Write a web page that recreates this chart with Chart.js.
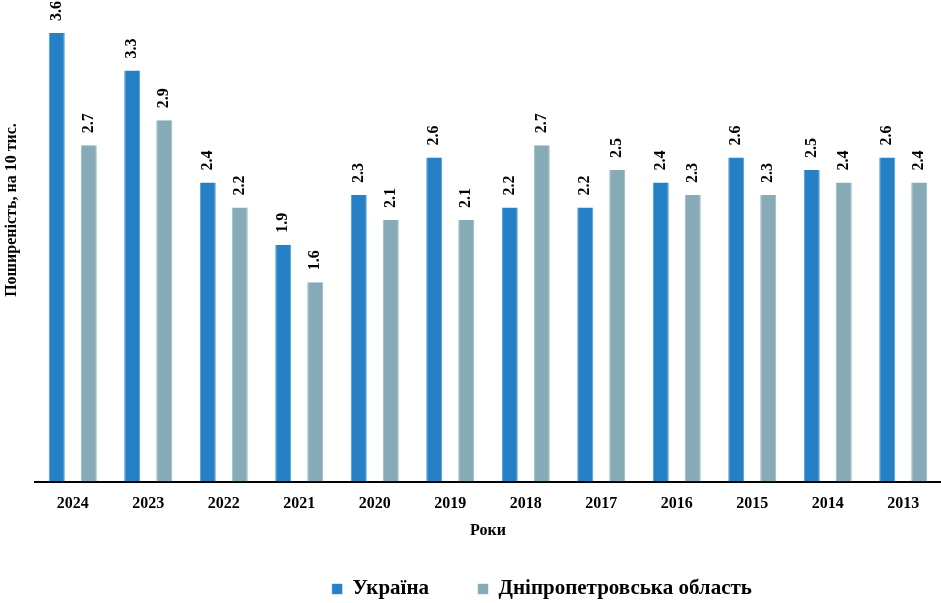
<!DOCTYPE html>
<html>
<head>
<meta charset="utf-8">
<script src="https://cdn.jsdelivr.net/npm/chart.js@4/dist/chart.umd.min.js"></script>
<style>
html,body{margin:0;padding:0;background:#fff;}
#wrap{width:941px;height:603px;}
</style>
</head>
<body>
<div id="wrap"><canvas id="c" width="941" height="603"></canvas></div>
<script>
const categories = ['2024','2023','2022','2021','2020','2019','2018','2017','2016','2015','2014','2013'];
const ukraine = [3.6, 3.3, 2.4, 1.9, 2.3, 2.6, 2.2, 2.2, 2.4, 2.6, 2.5, 2.6];
const dnipro = [2.7, 2.9, 2.2, 1.6, 2.1, 2.1, 2.7, 2.5, 2.3, 2.3, 2.4, 2.4];
const seriesNames = ['Україна', 'Дніпропетровська область'];
const yTitle = 'Поширеність, на 10 тис.';
const xTitle = 'Роки';

const FONT = '"Liberation Serif", "Times New Roman", serif';

const labelPlugin = {
  id: 'valueLabels',
  afterDatasetsDraw(chart) {
    const ctx = chart.ctx;
    ctx.save();
    ctx.font = 'bold 16px ' + FONT;
    ctx.fillStyle = '#000';
    ctx.textAlign = 'left';
    ctx.textBaseline = 'middle';
    chart.data.datasets.forEach((ds, i) => {
      const meta = chart.getDatasetMeta(i);
      meta.data.forEach((bar, j) => {
        ctx.save();
        ctx.translate(bar.x, bar.y - 12);
        ctx.rotate(-Math.PI / 2);
        ctx.fillText(ds.data[j].toFixed(1), 0, 0);
        ctx.restore();
      });
    });
    ctx.restore();
  }
};

const yTitlePlugin = {
  id: 'yTitle',
  afterDraw(chart) {
    const ctx = chart.ctx;
    ctx.save();
    ctx.font = 'bold 16px ' + FONT;
    ctx.fillStyle = '#000';
    ctx.textAlign = 'center';
    ctx.textBaseline = 'middle';
    ctx.translate(12, 210);
    ctx.rotate(-Math.PI / 2);
    ctx.fillText(yTitle, 0, 0);
    ctx.restore();
  }
};

const legendShift = {
  id: 'legendShift',
  afterLayout(chart) {
    const lg = chart.legend;
    if (!lg) return;
    const dx = 54;
    lg.left += dx; lg.right += dx;
    const newTop = 589 - 10.5 - lg.options.labels.padding;
    const dy = newTop - lg.top;
    lg.top += dy; lg.bottom += dy;
  }
};

new Chart(document.getElementById('c'), {
  type: 'bar',
  data: {
    labels: categories,
    datasets: [
      { label: seriesNames[0], data: ukraine, backgroundColor: '#2680C6', borderColor: '#4a96d2', borderWidth: {left:1,right:1,top:0,bottom:0} },
      { label: seriesNames[1], data: dnipro, backgroundColor: '#86ABB6', borderColor: '#98b8c1', borderWidth: {left:1,right:1,top:0,bottom:0} }
    ]
  },
  options: {
    responsive: false,
    animation: false,
    devicePixelRatio: 1,
    layout: { padding: { left: 35, top: 33, right: 0, bottom: -27 } },
    datasets: { bar: { categoryPercentage: 0.848, barPercentage: 0.5 } },
    scales: {
      x: {
        grid: { display: false, drawTicks: false },
        border: { display: true, color: '#000', width: 2 },
        ticks: { color: '#000', font: { family: FONT, size: 16, weight: 'bold' }, padding: 13, maxRotation: 0 },
        title: { display: true, text: xTitle, color: '#000', font: { family: FONT, size: 16, weight: 'bold' }, padding: { top: -6, bottom: 10 } }
      },
      y: {
        display: false,
        min: 0,
        max: 3.6
      }
    },
    plugins: {
      legend: {
        position: 'bottom',
        labels: {
          color: '#000',
          boxWidth: 10,
          boxHeight: 10,
          padding: 49,
          font: { family: FONT, size: 21, weight: 'bold' }
        }
      },
      tooltip: { enabled: false }
    }
  },
  plugins: [labelPlugin, yTitlePlugin, legendShift]
});
</script>
</body>
</html>
